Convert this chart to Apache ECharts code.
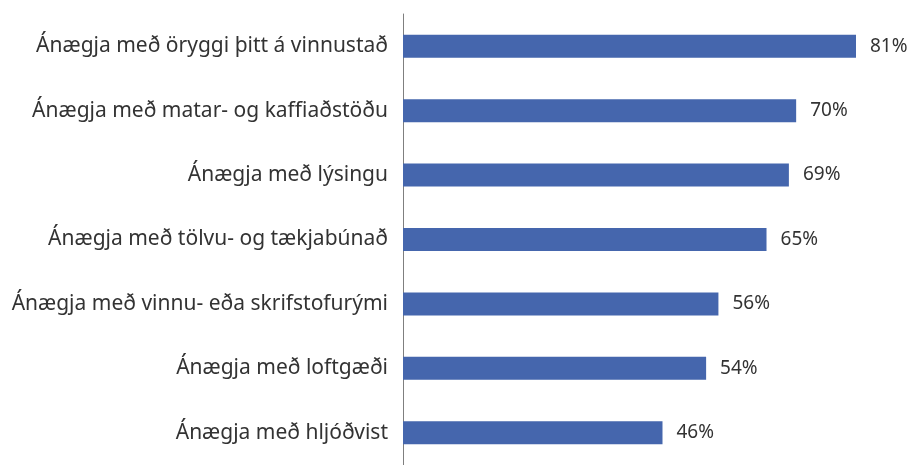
<!DOCTYPE html>
<html>
<head>
<meta charset="utf-8">
<script src="https://cdn.jsdelivr.net/npm/echarts@6/dist/echarts.min.js"></script>
<style>
html,body{margin:0;padding:0;background:#fff;}
#chart{width:909px;height:465px;}
</style>
</head>
<body>
<div id="chart"></div>
<script>
const categories = [
  "Ánægja með öryggi þitt á vinnustað",
  "Ánægja með matar- og kaffiaðstöðu",
  "Ánægja með lýsingu",
  "Ánægja með tölvu- og tækjabúnað",
  "Ánægja með vinnu- eða skrifstofurými",
  "Ánægja með loftgæði",
  "Ánægja með hljóðvist"
];
const values = [81, 70.3, 69, 65, 56.4, 54.2, 46.4];

const chart = echarts.init(document.getElementById('chart'));
chart.setOption({
  animation: false,
  grid: { left: 403, top: 14, width: 453, height: 460, containLabel: false },
  xAxis: {
    type: 'value', min: 0, max: 81, show: false
  },
  yAxis: {
    type: 'category', data: categories, inverse: true,
    axisLine: { show: true, lineStyle: { color: '#7f7f7f', width: 1 } },
    axisTick: { show: false },
    axisLabel: { margin: 15, fontSize: 21, color: '#333333', fontFamily: 'Noto Sans' }
  },
  series: [{
    type: 'bar', data: values, barWidth: 23,
    itemStyle: { color: '#4566ad' },
    label: {
      show: true, position: 'right', distance: 14,
      fontSize: 19, color: '#333333', fontFamily: 'Noto Sans',
      formatter: p => Math.round(p.value) + '%'
    }
  }]
});
</script>
</body>
</html>
